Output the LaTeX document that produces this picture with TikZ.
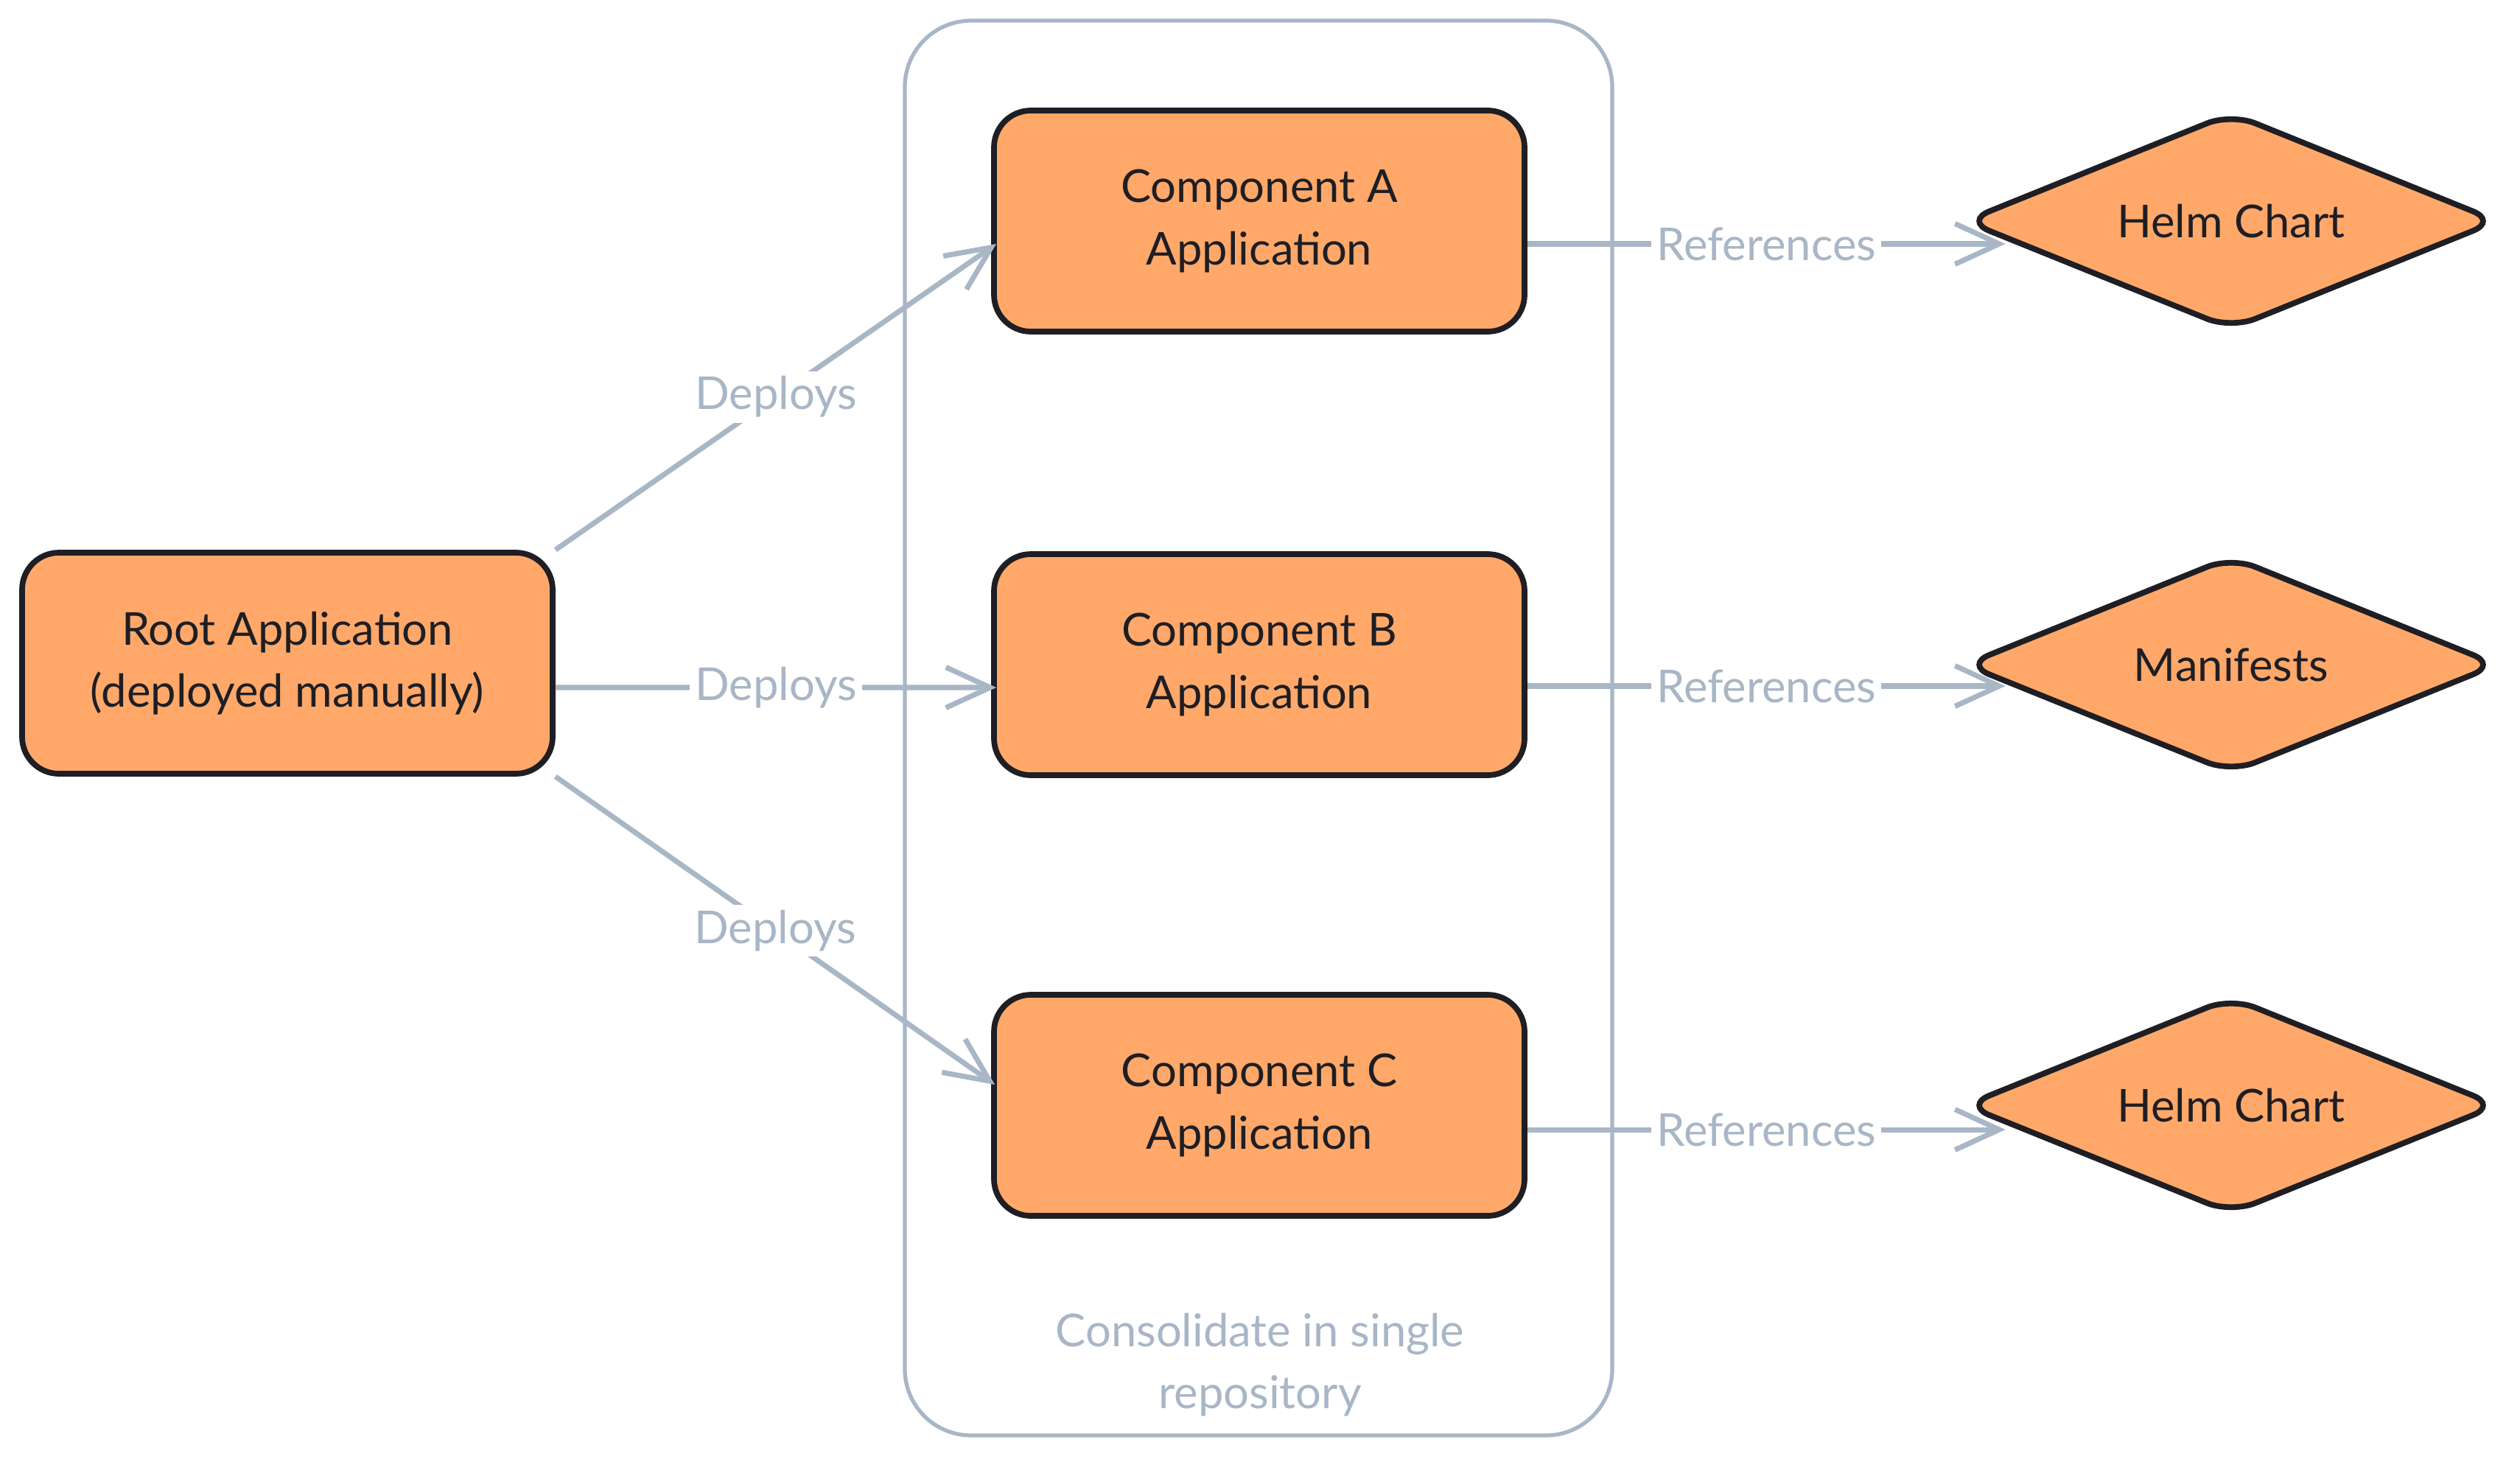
\documentclass[tikz,border=0pt]{standalone}
\usepackage{fontspec}
\setmainfont{Lato}
\usepackage{tikz}
\usetikzlibrary{positioning, shapes.geometric, arrows.meta}

\definecolor{appfill}{HTML}{FFA869}
\definecolor{inkline}{HTML}{1E1E24}
\definecolor{linkgrey}{HTML}{A8B6C6}

\begin{document}
\begin{tikzpicture}[
appnode/.style={rectangle, rounded corners=0.5cm, draw=inkline, fill=appfill, line width=2.2pt, minimum width=7.2cm, minimum height=3cm, align=center, text=inkline, font=\fontsize{17.5}{24}\selectfont},
chartnode/.style={diamond, aspect=4, rounded corners=0.35cm, draw=inkline, fill=appfill, line width=2.2pt, minimum width=7.25cm, minimum height=2.95cm, inner sep=0pt, text=inkline, font=\fontsize{17.5}{24}\selectfont},
groupbox/.style={rectangle, rounded corners=0.9cm, draw=linkgrey, line width=1.5pt, minimum width=9.6cm, minimum height=19.2cm},
to/.style={-{Straight Barb[length=0.6cm, width=0.55cm, line width=2pt]}, draw=linkgrey, line width=2pt},
edgelabel/.style={fill=white, inner sep=2pt, text=linkgrey, font=\fontsize{17.5}{24}\selectfont},
]
\useasboundingbox (0,0) rectangle (34.2,-19.8);
%group
\node[groupbox](repo) at (17.08,-9.88) {};
\node[text=linkgrey, align=center, font=\fontsize{17.5}{24}\selectfont](repolabel) at (17.10,-18.52) {Consolidate in single\\repository};
%nodes
\node[appnode](root) at (3.90,-9.00) {Root Application\\(deployed manually)};
\node[appnode](compA) at (17.09,-3.00) {Component A\\Application};
\node[appnode](compB) at (17.09,-9.02) {Component B\\Application};
\node[appnode](compC) at (17.09,-15.00) {Component C\\Application};
\node[chartnode](helmA) at (30.28,-3.00) {Helm Chart};
\node[chartnode](manifB) at (30.28,-9.02) {Manifests};
\node[chartnode](helmC) at (30.28,-15.00) {Helm Chart};
%connections
\draw[to] (root.north east) -- node[edgelabel] {Deploys} ([xshift=0.7mm, yshift=-3.1mm]compA.west);
\draw[to] ([yshift=-3.3mm]root.east) -- node[edgelabel] {Deploys} ([xshift=0.7mm, yshift=-3.1mm]compB.west);
\draw[to] (root.south east) -- node[edgelabel] {Deploys} ([xshift=0.5mm, yshift=2.8mm]compC.west);
\draw[to] ([yshift=-3.1mm]compA.east) -- node[edgelabel] {References} ([xshift=6mm, yshift=-3.1mm]helmA.west);
\draw[to] ([yshift=-2.9mm]compB.east) -- node[edgelabel] {References} ([xshift=6mm, yshift=-2.9mm]manifB.west);
\draw[to] ([yshift=-3.3mm]compC.east) -- node[edgelabel] {References} ([xshift=6mm, yshift=-3.3mm]helmC.west);
\end{tikzpicture}
\end{document}
